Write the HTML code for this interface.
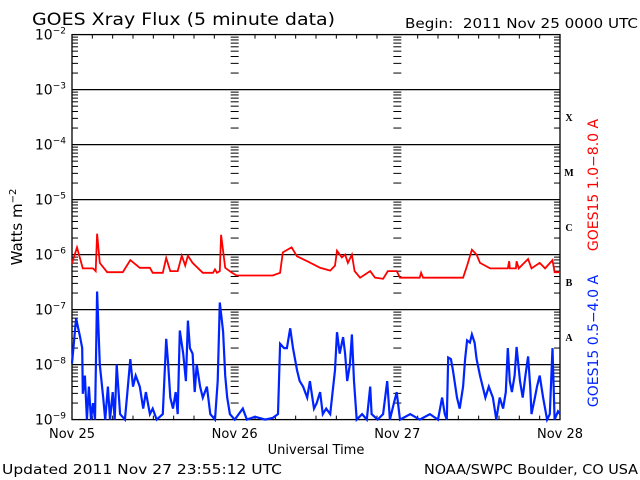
<!DOCTYPE html>
<html><head><meta charset="utf-8"><style>
body{margin:0;background:#fff;width:640px;height:480px;overflow:hidden}
svg{display:block;font-family:"DejaVu Sans","Liberation Sans",sans-serif}
</style></head><body>
<svg id="chart" width="640" height="480">
<text x="32" y="25" font-size="17" textLength="303" lengthAdjust="spacingAndGlyphs">GOES Xray Flux (5 minute data)</text>
<text x="405" y="28" font-size="13" textLength="233" lengthAdjust="spacingAndGlyphs">Begin:&#160; 2011 Nov 25 0000 UTC</text>
<text transform="translate(22,227) rotate(-90)" text-anchor="middle" font-size="15">Watts m<tspan font-size="10" dy="-6">−2</tspan></text>
<text x="316" y="454" text-anchor="middle" font-size="13">Universal Time</text>
<text x="2" y="474" font-size="13" textLength="280" lengthAdjust="spacingAndGlyphs">Updated 2011 Nov 27 23:55:12 UTC</text>
<text x="424" y="474" font-size="13" textLength="214" lengthAdjust="spacingAndGlyphs">NOAA/SWPC Boulder, CO USA</text>
<text transform="translate(598,185) rotate(-90)" text-anchor="middle" font-size="14" fill="#f00">GOES15 1.0−8.0 A</text>
<text transform="translate(598,341) rotate(-90)" text-anchor="middle" font-size="14" fill="#0024ff">GOES15 0.5−4.0 A</text>
<g id="axes"></g>
<g id="series"></g>
</svg>
<script>
const decades=[-2,-3,-4,-5,-6,-7,-8,-9];
const dayLabels=["Nov 25","Nov 26","Nov 27","Nov 28"];
const classLabels=["X","M","C","B","A"];
const redT=[0,0.74,1.6,3.1,3.5,3.7,4.1,5.2,7.5,8.6,10.0,11.5,11.9,13.4,13.9,14.5,15.6,16.2,16.7,17.1,17.8,19.3,20.8,21.1,21.4,21.8,22.0,22.6,23.6,24.3,29.6,30.7,31.1,32.4,33.2,34.7,36.6,38.1,38.8,39.1,39.8,40.3,40.7,41.3,41.7,42.5,44.0,44.7,45.9,46.6,47.9,48.4,51.3,51.5,51.8,57.7,58.3,59.0,59.7,60.2,61.7,64.3,64.5,64.6,65.5,65.6,65.9,67.3,67.8,69.0,69.8,70.9,71.2,72];
const redV=[-6.16,-5.87,-6.25,-6.25,-6.3,-5.62,-6.15,-6.32,-6.32,-6.1,-6.24,-6.24,-6.33,-6.33,-6.06,-6.3,-6.3,-6.02,-6.2,-6.02,-6.15,-6.33,-6.33,-6.27,-6.33,-6.3,-5.64,-6.24,-6.33,-6.38,-6.38,-6.33,-5.96,-5.87,-6.03,-6.12,-6.24,-6.29,-6.2,-5.93,-6.05,-6.0,-6.15,-6.0,-6.3,-6.42,-6.3,-6.42,-6.44,-6.3,-6.3,-6.42,-6.42,-6.33,-6.42,-6.42,-6.2,-5.91,-6.0,-6.15,-6.25,-6.25,-6.12,-6.25,-6.25,-6.12,-6.25,-6.08,-6.25,-6.15,-6.25,-6.1,-6.32,-6.32];
const blueT=[0,0.6,1.2,1.5,1.6,1.9,2.2,2.5,2.8,3.1,3.4,3.7,4.1,4.6,4.9,5.3,5.6,6.0,6.3,6.6,7.1,7.8,8.1,8.6,9.0,9.4,10.0,10.5,10.9,11.5,11.9,12.5,13.4,13.9,14.2,14.5,14.9,15.3,15.6,15.9,16.4,16.8,17.1,17.4,17.8,18.1,18.4,18.9,19.3,19.9,20.4,21.1,21.5,21.8,22.3,22.6,22.9,23.3,24.0,25.2,25.8,27.0,28.5,29.6,30.4,30.7,31.3,31.7,32.2,32.6,33.2,33.6,34.1,34.7,35.1,35.7,36.1,36.6,37.0,37.5,38.1,38.5,38.8,39.1,39.5,40.0,40.3,40.6,41.0,41.3,41.6,42.0,42.8,43.5,44.0,44.2,45.1,45.9,46.5,46.9,47.5,47.9,48.4,49.9,51.3,52.8,54.0,54.6,55.0,55.3,55.5,55.9,56.2,56.8,57.2,57.7,58.0,58.3,58.7,59.0,59.4,59.7,60.2,60.6,61.0,61.5,62.1,62.6,63.1,63.6,64.0,64.3,64.6,64.9,65.3,65.6,66.1,66.5,66.9,67.3,67.6,67.8,68.3,68.6,69.0,69.5,70.1,70.5,70.9,71.2,71.7,72];
const blueV=[-7.98,-7.16,-7.5,-7.7,-8.53,-8.2,-9,-8.4,-9,-8.7,-9,-6.67,-8.0,-8.6,-9,-8.4,-9,-8.5,-9,-8.0,-8.9,-9,-8.6,-7.9,-8.4,-8.2,-8.4,-8.8,-8.5,-8.9,-8.8,-9,-8.9,-7.53,-8.0,-8.6,-8.8,-8.5,-8.9,-7.38,-7.8,-8.3,-7.2,-7.7,-7.8,-8.5,-8.0,-8.4,-8.6,-8.4,-8.9,-9,-8.3,-6.87,-7.4,-8.2,-8.6,-8.9,-9,-8.8,-9,-8.95,-9,-8.97,-8.9,-7.62,-7.7,-7.7,-7.34,-7.7,-8.1,-8.3,-8.4,-8.6,-8.3,-8.8,-8.7,-8.5,-8.9,-8.8,-8.9,-8.45,-8.1,-7.41,-7.8,-7.5,-7.8,-8.3,-8.0,-7.45,-8.3,-9,-8.9,-9,-8.4,-8.9,-9,-8.9,-8.3,-9,-8.7,-8.5,-9,-8.9,-9,-8.9,-9,-8.6,-8.9,-9,-7.87,-7.9,-8.1,-8.6,-8.8,-8.4,-7.9,-7.56,-7.6,-7.45,-7.6,-7.9,-8.2,-8.4,-8.6,-8.4,-8.6,-9,-8.6,-8.8,-8.5,-7.7,-8.3,-8.5,-8.2,-7.68,-8.3,-8.6,-8.2,-7.85,-8.4,-8.9,-8.6,-8.4,-8.2,-8.6,-9,-8.9,-7.7,-9,-8.85,-8.9];

const X0=72,X1=560,Y0=34.6,DEC=55;
const xS=h=>X0+(X1-X0)*h/72;
const yS=l=>Y0+(-2-l)*DEC;
const NS="http://www.w3.org/2000/svg";
const axes=document.getElementById('axes'),ser=document.getElementById('series');
function mk(tag,at,parent){const e=document.createElementNS(NS,tag);for(const k in at)e.setAttribute(k,at[k]);parent.appendChild(e);return e;}

let fr=mk('rect',{x:X0,y:Y0,width:X1-X0,height:yS(-9)-Y0,fill:'none',stroke:'#000','stroke-width':1.3},axes);


decades.forEach(d=>{
  const y=yS(d);
  if(d>-9&&d<-2){let l=mk('line',{x1:X0,x2:X1,y1:y,y2:y,stroke:'#000','stroke-width':1.3},axes);
    
    }
  let t=mk('text',{x:X0-6,y:y+5,'text-anchor':'end','font-size':14},axes);
  
  
  t.textContent='10';
  let s=mk('tspan',{dy:-6,'font-size':9},t);s.textContent=String(d).replace('-','−');
  if(d>-9){for(let m=2;m<=9;m++){const ym=yS(d-1+Math.log10(m));
    [[X0,X0+6],[X1-6,X1],[xS(24)-4,xS(24)+4],[xS(48)-4,xS(48)+4]].forEach(p=>{
      let tk=mk('line',{x1:p[0],x2:p[1],y1:ym,y2:ym,stroke:'#000','stroke-width':1},axes);
      
      });}}
});
for(let h=3;h<72;h+=3){const x=xS(h);const len=h%24==0?0:4;
  if(len){[[Y0,Y0+len],[yS(-9)-len,yS(-9)]].forEach(p=>{let tk=mk('line',{x1:x,x2:x,y1:p[0],y2:p[1],stroke:'#000'},axes);
    
    });}}
dayLabels.forEach((lb,i)=>{let t=mk('text',{x:xS(i*24),y:438,'text-anchor':'middle','font-size':13},axes);
  
  
  t.textContent=lb;});
classLabels.forEach((c,i)=>{let t=mk('text',{x:569,y:yS(-3.5-i)+4,'text-anchor':'middle','font-size':10,'font-weight':'bold','font-family':'Liberation Serif, serif'},axes);
  
  
  t.textContent=c;});
function line(T,V,col,name,w){
  const pts=T.map((t,i)=>xS(t).toFixed(1)+','+Math.min(yS(V[i]),yS(-9)).toFixed(1)).join(' ');
  let p=mk('polyline',{points:pts,fill:'none',stroke:col,'stroke-width':w,'stroke-linejoin':'miter'},ser);
  
  
}
line(redT,redV,'#f00','long-channel-line',1.8);
line(blueT,blueV,'#0024ff','short-channel-line',2.2);
</script>
</body></html>
